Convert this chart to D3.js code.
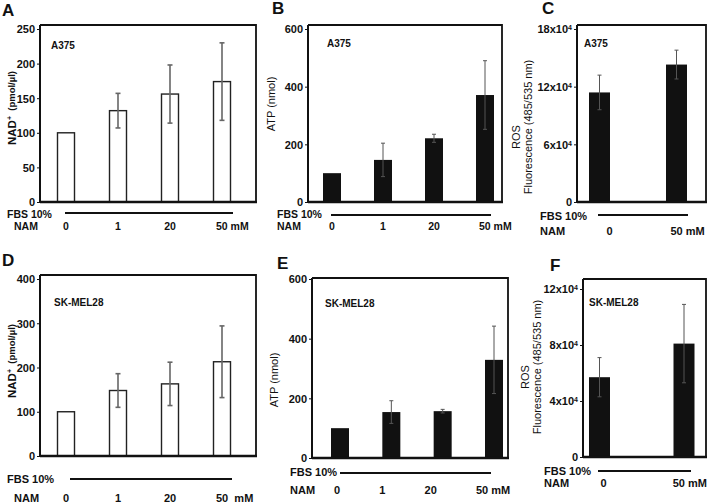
<!DOCTYPE html>
<html><head><meta charset="utf-8">
<script src="https://cdn.jsdelivr.net/npm/d3@7"></script>
<style>body{margin:0;background:#fff}svg{font-family:"Liberation Sans",Arial,sans-serif}</style>
</head><body>
<script>
// ---- data ----
const nam4 = ["0", "1", "20", "50"];
const nam2 = ["0", "50"];
const nadA = [100, 132, 156, 174];
const nadAErr = [0, 25, 42, 56];
const atpA = [100, 146, 221, 371];
const atpAErr = [0, 58, 14, 119];
const rosA = [114000, 143000];
const rosAErr = [18000, 15000];
const nadD = [100, 148, 163, 213];
const nadDErr = [0, 38, 49, 81];
const atpE = [100, 154, 157, 329];
const atpEErr = [0, 38, 6, 113];
const rosF = [57000, 81000];
const rosFErr = [14000, 28000];
const ticksNadA = [0, 50, 100, 150, 200, 250];
const ticksAtp = [0, 200, 400, 600];
const ticksRosA = [0, 60000, 120000, 180000];
const ticksNadD = [0, 100, 200, 300, 400];
const ticksRosF = [0, 40000, 80000, 120000];

const svg = d3.select("body").append("svg").attr("width", 709).attr("height", 503);

function panel(o) {
  const g = svg.append("g");
  const y = d3.scaleLinear().domain([0, o.ticks[o.ticks.length - 1]]).range([o.bottom, o.topTick]);
  const x = d3.scalePoint().domain(o.cats).range(o.xr);
  const rowFs = o.rowFs || 11;
  // bars
  g.selectAll("rect.bar").data(o.vals).enter().append("rect")
    .attr("x", (d, i) => x(o.cats[i]) - o.bw / 2)
    .attr("y", d => y(d))
    .attr("width", o.bw)
    .attr("height", d => o.bottom - y(d))
    .attr("fill", o.fill).attr("stroke", o.fill === "#fff" ? "#222" : "none").attr("stroke-width", 1.4);
  // error bars
  o.vals.forEach((v, i) => {
    const e = o.err[i];
    if (!e) return;
    const cx = x(o.cats[i]);
    g.append("line").attr("x1", cx).attr("x2", cx).attr("y1", y(v - e)).attr("y2", y(v + e))
      .attr("stroke", o.ecol).attr("stroke-width", o.ew);
    [v - e, v + e].forEach(t => g.append("line").attr("x1", cx - o.cap).attr("x2", cx + o.cap)
      .attr("y1", y(t)).attr("y2", y(t)).attr("stroke", o.ecol).attr("stroke-width", o.ew));
  });
  // frame
  g.append("path").attr("d", `M${o.left},${o.frameTop}H${o.right}V${o.bottom}`)
    .attr("fill", "none").attr("stroke", "#111").attr("stroke-width", 1.8);
  g.append("line").attr("x1", o.left).attr("x2", o.right + 1).attr("y1", o.bottom).attr("y2", o.bottom)
    .attr("stroke", "#111").attr("stroke-width", 2.4);
  // y axis
  const ax = g.append("g").attr("transform", `translate(${o.left},0)`)
    .call(d3.axisLeft(y).tickValues(o.ticks).tickSize(3).tickPadding(3).tickFormat(""));
  ax.select(".domain").attr("stroke", "#111").attr("stroke-width", 2).attr("d", `M0,${o.frameTop}V${o.bottom + 1}`);
  ax.selectAll(".tick line").attr("stroke", "#111").attr("stroke-width", 1);
  ax.selectAll(".tick").each(function (d) {
    const t = d3.select(this).append("text").attr("x", -5).attr("dy", "0.35em")
      .attr("text-anchor", "end").attr("fill", "#111").attr("font-size", 11).attr("font-weight", "bold")
      .attr("font-family", "Liberation Sans, Arial, sans-serif");
    if (o.sci && d !== 0) {
      t.text(d / 10000 + "x10");
      t.append("tspan").attr("dy", "-0.45em").attr("font-size", 7).text("4");
    } else t.text(d);
  });
  // panel letter
  g.append("text").attr("x", o.letter[0]).attr("y", o.letter[1]).text(o.name)
    .attr("font-size", 17).attr("font-weight", "bold").attr("fill", "#111");
  // cell line
  g.append("text").attr("x", o.cell[0]).attr("y", o.cell[1]).attr("dy", "0.35em").text(o.cellName)
    .attr("font-size", 10).attr("font-weight", "bold").attr("fill", "#111");
  // y label
  const yl = g.append("g").attr("transform", `translate(${o.ylab[0]},${o.ylab[1]}) rotate(-90)`);
  o.ylabel(yl);
  // FBS row
  g.append("text").attr("x", o.fbs[0]).attr("y", o.fbs[1]).attr("dy", "0.35em").text("FBS 10%")
    .attr("font-size", rowFs).attr("font-weight", "bold").attr("fill", "#111");
  g.append("line").attr("x1", o.fbsLine[0]).attr("x2", o.fbsLine[1]).attr("y1", o.fbsLine[2]).attr("y2", o.fbsLine[2])
    .attr("stroke", "#111").attr("stroke-width", 2);
  // NAM row
  g.append("text").attr("x", o.nam[0]).attr("y", o.nam[1]).attr("dy", "0.35em").text("NAM")
    .attr("font-size", rowFs).attr("font-weight", "bold").attr("fill", "#111");
  o.cats.forEach((c, i) => {
    const last = i === o.cats.length - 1;
    const cx = x(c) + (o.labShift ? o.labShift[i] : 0);
    const t = g.append("text").attr("y", o.nam[1]).attr("dy", "0.35em")
      .attr("font-size", rowFs).attr("font-weight", "bold").attr("fill", "#111")
      .text(last ? c + (o.mmSep || " ") + "mM" : c).style("white-space", "pre");
    if (last && o.endAt) t.attr("x", o.endAt).attr("text-anchor", "end");
    else t.attr("x", last ? cx - 6 : cx).attr("text-anchor", last ? "start" : "middle");
  });
}

function nadLabel(gl) {
  const t = gl.append("text").attr("text-anchor", "middle").attr("dy", "0.35em").attr("fill", "#111").attr("font-weight", "bold");
  t.append("tspan").attr("font-size", 11.5).text("NAD");
  t.append("tspan").attr("font-size", 7).attr("dy", "-0.5em").text("+");
  t.append("tspan").attr("font-size", 9.5).attr("dy", "0.3em").text("  (pmol/µl)").style("white-space", "pre");
}
function atpLabel(gl) {
  gl.append("text").attr("text-anchor", "middle").attr("dy", "0.35em").attr("fill", "#111")
    .attr("font-size", 11).text("ATP (nmol)");
}
function rosLabel(gl) {
  gl.append("text").attr("text-anchor", "middle").attr("x", -10).attr("y", -6).attr("fill", "#111").attr("font-size", 11).text("ROS");
  gl.append("text").attr("text-anchor", "middle").attr("y", 6).attr("fill", "#111").attr("font-size", 11).text("Fluorescence (485/535 nm)");
}

// A
panel({name: "A", cats: nam4, vals: nadA, err: nadAErr, ticks: ticksNadA, left: 40, right: 256, frameTop: 25, topTick: 29, bottom: 202,
  xr: [66, 222], bw: 17, fill: "#fff", ecol: "#666", ew: 1.6, cap: 2.5, letter: [2, 16], cell: [51, 45], cellName: "A375",
  ylab: [10, 108], ylabel: nadLabel, fbs: [7, 214], fbsLine: [65, 233, 213], nam: [14, 226], rowFs: 10.5});
// B
panel({name: "B", cats: nam4, vals: atpA, err: atpAErr, ticks: ticksAtp, left: 308, right: 502, frameTop: 25, topTick: 29, bottom: 202,
  xr: [332, 485], bw: 18, fill: "#111", ecol: "#555", ew: 1, cap: 2, letter: [272, 14], cell: [327, 43], cellName: "A375",
  ylab: [271, 104], ylabel: atpLabel, fbs: [277, 214], fbsLine: [331, 491, 215], nam: [277, 226], rowFs: 10.5});
// C
panel({name: "C", cats: nam2, vals: rosA, err: rosAErr, ticks: ticksRosA, sci: true, left: 577, right: 706, frameTop: 25, topTick: 29, bottom: 202,
  xr: [599.5, 676.5], bw: 21, fill: "#111", ecol: "#555", ew: 1, cap: 2, letter: [542, 14], cell: [584, 43], cellName: "A375",
  ylab: [526, 127], ylabel: rosLabel, fbs: [540, 216], fbsLine: [598, 688, 215], nam: [540, 231], labShift: [10, 0]});
// D
panel({name: "D", cats: nam4, vals: nadD, err: nadDErr, ticks: ticksNadD, left: 40, right: 256, frameTop: 275, topTick: 279, bottom: 456,
  xr: [66, 222], bw: 17, fill: "#fff", ecol: "#666", ew: 1.6, cap: 2.5, letter: [2, 266], cell: [54, 302], cellName: "SK-MEL28",
  ylab: [10, 361], ylabel: nadLabel, fbs: [7, 479], fbsLine: [70, 232, 479], nam: [14, 498], mmSep: "  "});
// E
panel({name: "E", cats: nam4, vals: atpE, err: atpEErr, ticks: ticksAtp, left: 312, right: 508, frameTop: 278, topTick: 279, bottom: 458,
  xr: [340, 494], bw: 18, fill: "#111", ecol: "#555", ew: 1, cap: 2, letter: [277, 269], cell: [325, 303], cellName: "SK-MEL28",
  ylab: [274, 380], ylabel: atpLabel, fbs: [290, 472], fbsLine: [340, 491, 473], nam: [290, 490], labShift: [-3, -9, -12, -12]});
// F
panel({name: "F", cats: nam2, vals: rosF, err: rosFErr, ticks: ticksRosF, sci: true, left: 583, right: 706, frameTop: 279, topTick: 289, bottom: 457,
  xr: [599.5, 684], bw: 21, fill: "#111", ecol: "#555", ew: 1, cap: 2, letter: [550, 271], cell: [589, 302], cellName: "SK-MEL28",
  ylab: [535, 367], ylabel: rosLabel, fbs: [544, 471], fbsLine: [598, 691, 471], nam: [544, 483], labShift: [4, 0], endAt: 707});
</script>
</body></html>
